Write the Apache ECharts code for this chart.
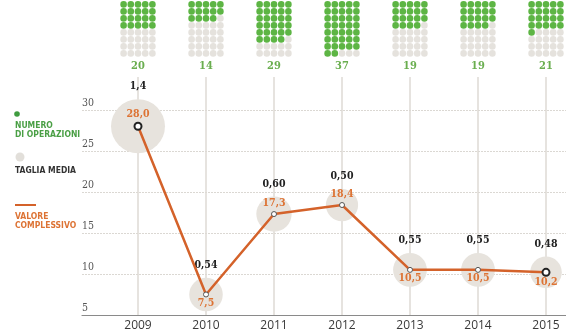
<!DOCTYPE html>
<html><head><meta charset="utf-8">
<script src="https://cdn.jsdelivr.net/npm/echarts@6/dist/echarts.min.js"></script>
<style>html,body{margin:0;padding:0;background:#fff}#c{width:566px;height:334px}</style>
</head><body><div id="c"></div>
<script>
// ---- data ----
const years = ['2009', '2010', '2011', '2012', '2013', '2014', '2015'];
const operations = [20, 14, 29, 37, 19, 19, 21];          // numero di operazioni
const averageSize = [1.4, 0.54, 0.60, 0.50, 0.55, 0.55, 0.48]; // taglia media
const totalValue = [28.0, 7.5, 17.3, 18.4, 10.5, 10.5, 10.2];  // valore complessivo
const yTicks = [5, 10, 15, 20, 25, 30];
const labelBelow = [false, true, false, false, true, true, true];
const legendLabels = ['NUMERO\nDI OPERAZIONI', 'TAGLIA MEDIA', 'VALORE\nCOMPLESSIVO'];

// ---- style ----
const GREEN = '#5db544', GREEN_TXT = '#6aae4f', GREY_DOT = '#e5e2dd';
const ORANGE = '#d4622a', ORANGE_TXT = '#dd7334', BUBBLE = '#e7e3dd';
const SERIF = '"DejaVu Serif Condensed", "DejaVu Serif", "Liberation Serif", serif';
const NARROW = '"Liberation Sans Narrow", "DejaVu Sans Condensed", "Roboto", sans-serif';
const YMAX = 34;
const fmtTotal = v => v.toFixed(1).replace('.', ',');
const fmtAvg = v => (v >= 1 ? v.toFixed(1) : v.toFixed(2)).replace('.', ',');
const bubbleK = 45.6;

const chart = echarts.init(document.getElementById('c'), null, {renderer: 'canvas'});

const lineData = totalValue.map((v, i) => {
  const edge = (i === 0 || i === totalValue.length - 1);
  return {
    value: v,
    symbolSize: edge ? 7 : 5,
    itemStyle: {color: '#fff', borderColor: edge ? '#222' : '#555', borderWidth: edge ? 2 : 1},
    label: {position: labelBelow[i] ? 'bottom' : 'top', distance: labelBelow[i] ? 0 : 2}
  };
});

const option = {
  animation: false,
  backgroundColor: '#fff',
  grid: [
    {left: 138, right: 20, top: 77, bottom: 19},
    {left: 82, right: 0, top: 77, bottom: 19}
  ],
  xAxis: [
    {
      type: 'category', data: years, gridIndex: 0, boundaryGap: false,
      axisLine: {show: false}, axisTick: {show: false},
      axisLabel: {color: '#3a3a3a', fontSize: 12, fontFamily: '"Open Sans", sans-serif', margin: 5},
      splitLine: {show: true, lineStyle: {color: '#dedad5', width: 1.5}}
    },
    {
      type: 'value', gridIndex: 1, min: 0, max: 1,
      axisLine: {show: true, lineStyle: {color: '#8a8a8a', width: 1.2}},
      axisTick: {show: false}, axisLabel: {show: false}, splitLine: {show: false}
    }
  ],
  yAxis: [
    {type: 'value', gridIndex: 0, min: yTicks[0], max: YMAX, interval: yTicks[1] - yTicks[0], show: false},
    {
      type: 'value', gridIndex: 1, min: yTicks[0], max: YMAX, interval: yTicks[1] - yTicks[0],
      axisLine: {show: false}, axisTick: {show: false},
      axisLabel: {
        inside: true, margin: 0, showMaxLabel: false, verticalAlign: 'bottom', align: 'left',
        color: '#555', fontSize: 10.5, fontFamily: SERIF, padding: [0, 0, 1, 0],
        formatter: v => (yTicks.indexOf(v) >= 0 ? String(v) : '')
      },
      splitLine: {show: true, showMaxLine: false, showMinLine: false,
        lineStyle: {color: '#dbd8d3', type: [2, 1], width: 1}}
    }
  ],
  graphic: [
    {type: 'circle', shape: {cx: 17, cy: 114, r: 2.8}, style: {fill: '#3f9c3f'}},
    {type: 'text', x: 15, y: 121, style: {text: legendLabels[0], fill: '#4a9f45', font: 'bold 8.5px ' + NARROW, lineHeight: 9}},
    {type: 'circle', shape: {cx: 20, cy: 157, r: 4.5}, style: {fill: '#e2dfda'}},
    {type: 'text', x: 15, y: 166, style: {text: legendLabels[1], fill: '#333', font: 'bold 8.5px ' + NARROW, lineHeight: 9}},
    {type: 'line', shape: {x1: 15, y1: 205, x2: 36, y2: 205}, style: {stroke: ORANGE, lineWidth: 2}},
    {type: 'text', x: 15, y: 212, style: {text: legendLabels[2], fill: ORANGE_TXT, font: 'bold 8.5px ' + NARROW, lineHeight: 9}}
  ],
  series: [
    {
      type: 'custom', xAxisIndex: 0, yAxisIndex: 0, silent: true, z: 1,
      data: operations.map((n, i) => [i, n]),
      renderItem: function (params, api) {
        const idx = api.value(0), n = api.value(1);
        const x = api.coord([idx, yTicks[0]])[0];
        const children = [];
        for (let k = 0; k < 40; k++) {
          const r = Math.floor(k / 5), c = k % 5;
          children.push({type: 'circle', shape: {cx: x + (c - 2) * 7.2, cy: 4.4 + r * 7, r: 3.3},
            style: {fill: k < n ? GREEN : GREY_DOT}});
        }
        children.push({type: 'text', style: {text: String(n), x: x, y: 66, align: 'center', verticalAlign: 'middle',
          fill: GREEN_TXT, font: 'bold 11px ' + SERIF}});
        return {type: 'group', children: children};
      }
    },
    {
      type: 'scatter', xAxisIndex: 0, yAxisIndex: 0, z: 2, silent: true,
      data: totalValue.map((v, i) => [i, v, averageSize[i]]),
      symbolSize: val => bubbleK * Math.sqrt(val[2]),
      itemStyle: {color: BUBBLE, opacity: 1},
      label: {show: true, position: 'top', distance: 7, color: '#222', fontSize: 10.5, fontWeight: 'bold',
        fontFamily: SERIF, formatter: p => fmtAvg(p.value[2])}
    },
    {
      type: 'line', xAxisIndex: 0, yAxisIndex: 0, z: 3, silent: true,
      data: lineData, symbol: 'circle', showAllSymbol: true,
      lineStyle: {color: ORANGE, width: 2.5},
      label: {show: true, color: ORANGE_TXT, fontSize: 10.5, fontWeight: 'bold', fontFamily: SERIF,
        formatter: p => fmtTotal(p.value)}
    }
  ]
};
chart.setOption(option);
</script></body></html>
